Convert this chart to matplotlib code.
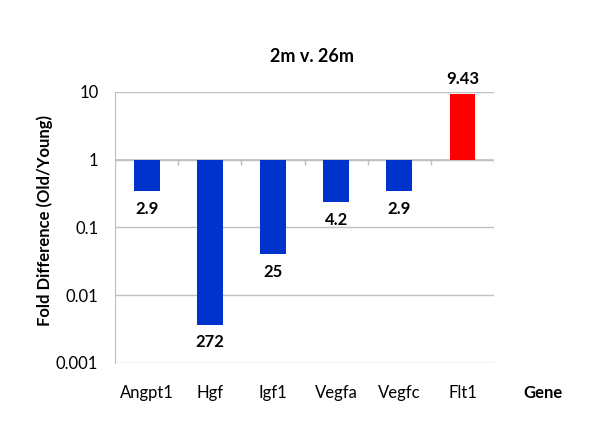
import numpy as np
import matplotlib
matplotlib.use("Agg")
import matplotlib.pyplot as plt

genes = ['Angpt1', 'Hgf', 'Igf1', 'Vegfa', 'Vegfc', 'Flt1']
# fold change labels as printed on chart; down-regulated genes shown as 1/fold
fold_labels = ['2.9', '272', '25', '4.2', '2.9', '9.43']
fold = [1/2.9, 1/272, 1/25, 1/4.2, 1/2.9, 9.43]
colors = ['#0033CC', '#0033CC', '#0033CC', '#0033CC', '#0033CC', '#FF0000']

plt.rcParams['font.family'] = ['Lato', 'DejaVu Sans']

fig = plt.figure(figsize=(6, 4.41), dpi=100)
ax = fig.add_axes([0.1917, 0.1769, 0.6317, 0.6145])

x = np.arange(len(genes))
vals = np.array(fold)
ax.bar(x, vals - 1, bottom=1, width=0.41, color=colors, zorder=3)

ax.set_yscale('log')
ax.set_ylim(0.001, 10)
ax.set_xlim(-0.5, len(genes) - 0.5)
ax.set_yticks([0.001, 0.01, 0.1, 1, 10])
ax.set_yticklabels(['0.001', '0.01', '0.1', '1', '10'], fontsize=12)
ax.minorticks_off()
ax.grid(axis='y', color='#BFBFBF', linewidth=1, zorder=0)
ax.tick_params(axis='y', length=0, pad=12)

ax.set_xticks(x)
ax.set_xticklabels(genes, fontsize=12)
ax.tick_params(axis='x', length=0, pad=16)

for s in ['top', 'right', 'bottom']:
    ax.spines[s].set_visible(False)
ax.spines['left'].set_color('#BFBFBF')

# category axis crosses at 1
ax.axhline(1, color='#BFBFBF', linewidth=1.2, zorder=2)
bounds = np.arange(-0.5, len(genes), 1.0)
ax.vlines(bounds, 10**-0.08, 1, color='#BFBFBF', linewidth=1, zorder=2)

for xi, v, lab in zip(x, vals, fold_labels):
    if v < 1:
        ax.annotate(lab, (xi, v), xytext=(0, -7), textcoords='offset points',
                    ha='center', va='top', fontsize=12, fontweight='bold')
    else:
        ax.annotate(lab, (xi, v), xytext=(0, 5), textcoords='offset points',
                    ha='center', va='bottom', fontsize=12, fontweight='bold')

fig.text(312/600, 1 - 57/441, '2m v. 26m', fontsize=13, fontweight='bold',
         ha='center', va='center')
fig.text(45/600, 1 - 221/441, 'Fold Difference (Old/Young)', fontsize=12,
         fontweight='bold', rotation=90, ha='center', va='center')
fig.text(543/600, 1 - 393/441, 'Gene', fontsize=12, fontweight='bold', ha='center', va='center')

plt.savefig('out.png')
